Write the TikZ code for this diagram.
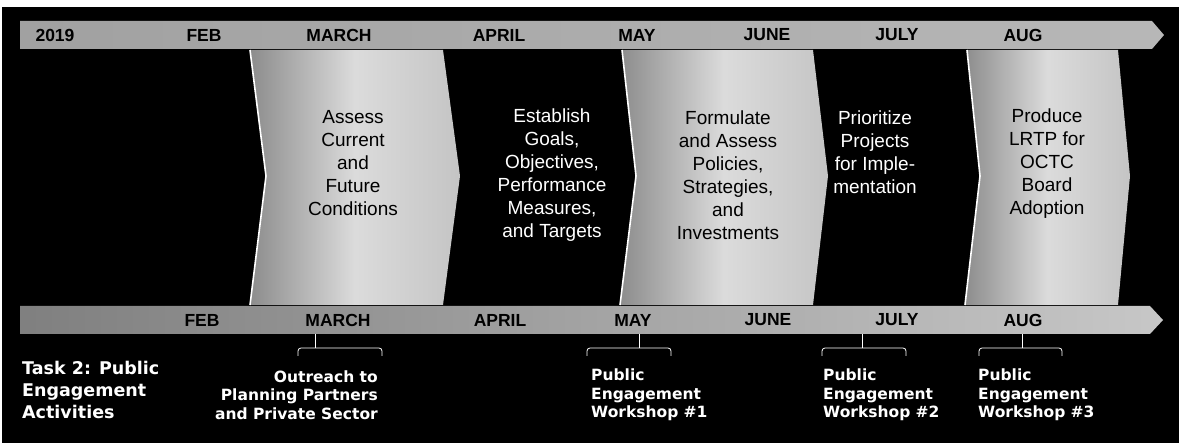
\documentclass[tikz,border=0pt]{standalone}
\usepackage{fontspec}
\setmainfont{Liberation Sans}
\newfontfamily\labfont{DejaVu Sans}
\usetikzlibrary{calc}
\definecolor{barTL}{gray}{0.63}
\definecolor{barTR}{gray}{0.72}
\definecolor{barBL}{gray}{0.50}
\definecolor{barBR}{gray}{0.78}
\definecolor{chevL}{gray}{0.55}
\definecolor{chevM}{gray}{0.86}
\definecolor{chevR}{gray}{0.77}
\tikzset{
  month/.style={font=\fontsize{17.5}{20}\selectfont\bfseries, text=black, inner sep=0pt},
  chevshade/.style={left color=chevL, right color=chevR, middle color=chevM},
  chevedge/.style={draw=white, line width=1.6pt},
  ctextdark/.style={font=\fontsize{19}{23}\selectfont, text=black, align=center, inner sep=0pt},
  ctextlight/.style={font=\fontsize{19}{23}\selectfont, text=white, align=center, inner sep=0pt},
  tasklab/.style={font=\labfont\bfseries\fontsize{17.5}{22}\selectfont, text=white, align=left, inner sep=0pt},
  actlab/.style={font=\labfont\bfseries\fontsize{15.5}{18.5}\selectfont, text=white, inner sep=0pt},
  bracket/.style={draw=white, line width=0.8pt, rounded corners=3pt},
  tick/.style={draw=white, line width=0.8pt}
}
\begin{document}
\begin{tikzpicture}[x=1pt,y=-1pt]
\useasboundingbox (0,0) rectangle (1179,443);
\fill[white] (0,0) rectangle (1179,443);
\fill[black] (2,7) rectangle (1179,443);

% top timeline bar
\shade[left color=barTL, right color=barTR] (20,21) -- (1152,21) -- (1164,35) -- (1152,49) -- (20,49) -- cycle;
\node[month] (t2019) at (55,35) {2019};
\node[month] (tfeb) at (204,35) {FEB};
\node[month] (tmar) at (339,35) {MARCH};
\node[month] (tapr) at (499,35) {APRIL};
\node[month] (tmay) at (637,35) {MAY};
\node[month] (tjun) at (767,35) {JUNE};
\node[month] (tjul) at (897,35) {JULY};
\node[month] (taug) at (1023,35) {AUG};

% gray chevrons
\shade[chevshade] (250,50) -- (443,50) -- (460,176) -- (443,305) -- (250,305) -- (266,176) -- cycle;
\draw[chevedge] (250,50) -- (266,176) -- (250,305);
\shade[chevshade] (622,50) -- (813,50) -- (828,176) -- (813,305) -- (620,305) -- (636,176) -- cycle;
\draw[chevedge] (622,50) -- (636,176) -- (620,305);
\shade[chevshade] (967,50) -- (1118,50) -- (1130,176) -- (1118,305) -- (965,305) -- (980,176) -- cycle;
\draw[chevedge] (967,50) -- (980,176) -- (965,305);

% chevron texts
\node[ctextdark] (c1) at (353,163) {Assess\\Current\\and\\Future\\Conditions};
\node[ctextlight] (c2) at (552,175) {Establish\\Goals,\\Objectives,\\Performance\\Measures,\\and Targets};
\node[ctextdark] (c3) at (728,175) {Formulate\\and Assess\\Policies,\\Strategies,\\and\\Investments};
\node[ctextlight] (c4) at (875,152) {Prioritize\\Projects\\for Imple-\\mentation};
\node[ctextdark] (c5) at (1047,164) {Produce\\LRTP for\\OCTC\\Board\\Adoption};

% bottom timeline bar
\shade[left color=barBL, right color=barBR] (20,306) -- (1150,306) -- (1163,320) -- (1150,334) -- (20,334) -- cycle;
\node[month] (bfeb) at (202,320) {FEB};
\node[month] (bmar) at (338,320) {MARCH};
\node[month] (bapr) at (500,320) {APRIL};
\node[month] (bmay) at (633,320) {MAY};
\node[month] (bjun) at (768,320) {JUNE};
\node[month] (bjul) at (897,320) {JULY};
\node[month] (baug) at (1023,320) {AUG};

% brackets
\coordinate (k1) at (315,334); \coordinate (m1) at (315,348);
\coordinate (k2) at (639,334); \coordinate (m2) at (639,348);
\coordinate (k3) at (862,334); \coordinate (m3) at (862,348);
\coordinate (k4) at (1022,334); \coordinate (m4) at (1022,348);
\draw[tick] (k1) -- (m1);
\draw[tick] (k2) -- (m2);
\draw[tick] (k3) -- (m3);
\draw[tick] (k4) -- (m4);
\draw[bracket] (298,356) -- (298,348) -- (382,348) -- (382,356);
\draw[bracket] (587,356) -- (587,348) -- (671,348) -- (671,356);
\draw[bracket] (822,356) -- (822,348) -- (906,348) -- (906,356);
\draw[bracket] (979,356) -- (979,348) -- (1062,348) -- (1062,356);

% labels
\node[tasklab, anchor=west] (task) at (22,390) {Task 2: Public\\Engagement\\Activities};
\node[actlab, align=right, anchor=east] (a1) at (378,395) {Outreach to\\Planning Partners\\and Private Sector};
\node[actlab, align=left, anchor=west] (a2) at (591,395) {Public\\Engagement\\Workshop \#1};
\node[actlab, align=left, anchor=west] (a3) at (823,395) {Public\\Engagement\\Workshop \#2};
\node[actlab, align=left, anchor=west] (a4) at (978,395) {Public\\Engagement\\Workshop \#3};
\end{tikzpicture}
\end{document}
